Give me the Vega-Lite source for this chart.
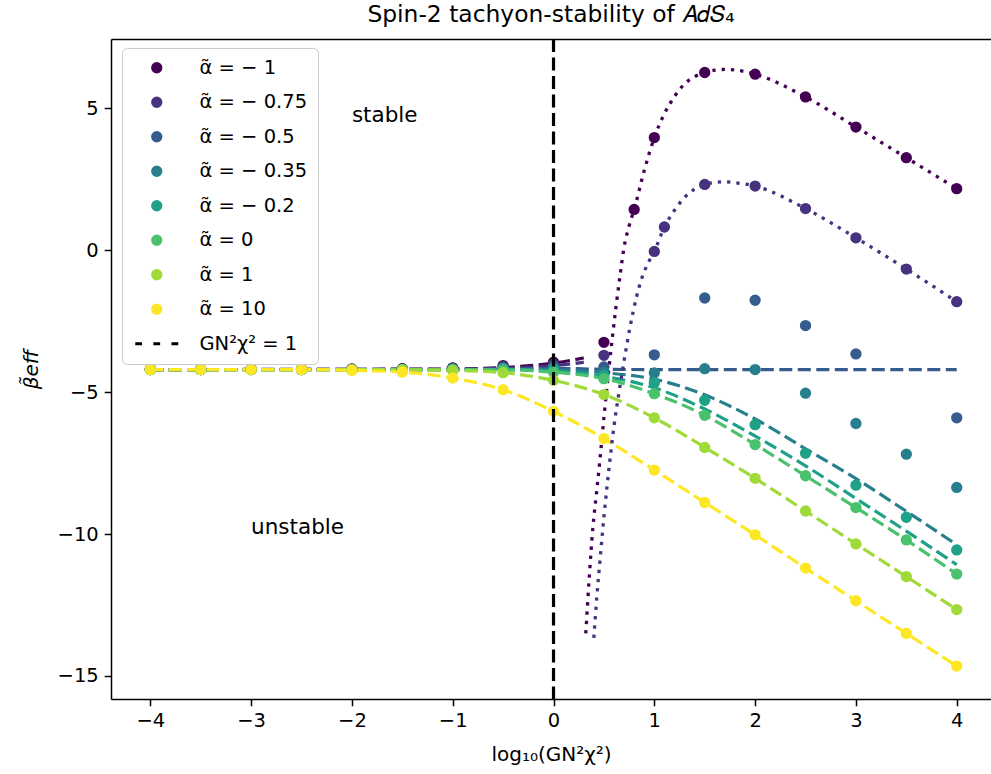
{
  "$schema": "https://vega.github.io/schema/vega-lite/v6.json",
  "width": 880,
  "height": 660,
  "autosize": {"type": "none"},
  "padding": {"left": 111, "top": 39, "right": 0, "bottom": 75},
  "title": {"text": "Spin-2 tachyon-stability of 𝐴𝑑𝑆₄", "fontSize": 23.4, "font": "DejaVu Sans", "fontWeight": "normal", "color": "black", "anchor": "middle", "offset": 10},
  "config": {
    "view": {"stroke": null},
    "font": "DejaVu Sans",
    "axis": {"domainColor": "black", "domainWidth": 1.5, "tickColor": "black", "tickWidth": 1.5, "tickSize": 6.8, "labelPadding": 6, "labelFontSize": 19.5, "labelFont": "DejaVu Sans", "labelColor": "black", "titleFont": "DejaVu Sans", "titleFontSize": 20, "titleFontWeight": "normal", "titleColor": "black", "grid": false}
  },
  "datasets": {
    "pts": [
      {"a":"-1","x":-4,"y":-4.2},{"a":"-1","x":-3.5,"y":-4.2},{"a":"-1","x":-3,"y":-4.2},{"a":"-1","x":-2.5,"y":-4.2},{"a":"-1","x":-2,"y":-4.19},{"a":"-1","x":-1.5,"y":-4.18},{"a":"-1","x":-1,"y":-4.15},{"a":"-1","x":-0.5,"y":-4.07},{"a":"-1","x":0,"y":-3.95},{"a":"-1","x":0.5,"y":-3.25},{"a":"-1","x":0.8,"y":1.43},{"a":"-1","x":1,"y":3.96},{"a":"-1","x":1.5,"y":6.25},{"a":"-1","x":2,"y":6.19},{"a":"-1","x":2.5,"y":5.39},{"a":"-1","x":3,"y":4.33},{"a":"-1","x":3.5,"y":3.25},{"a":"-1","x":4,"y":2.16},
      {"a":"-0.75","x":-4,"y":-4.2},{"a":"-0.75","x":-3.5,"y":-4.2},{"a":"-0.75","x":-3,"y":-4.2},{"a":"-0.75","x":-2.5,"y":-4.2},{"a":"-0.75","x":-2,"y":-4.2},{"a":"-0.75","x":-1.5,"y":-4.19},{"a":"-0.75","x":-1,"y":-4.16},{"a":"-0.75","x":-0.5,"y":-4.1},{"a":"-0.75","x":0,"y":-4.02},{"a":"-0.75","x":0.5,"y":-3.71},{"a":"-0.75","x":1,"y":-0.05},{"a":"-0.75","x":1.1,"y":0.81},{"a":"-0.75","x":1.5,"y":2.31},{"a":"-0.75","x":2,"y":2.25},{"a":"-0.75","x":2.5,"y":1.46},{"a":"-0.75","x":3,"y":0.43},{"a":"-0.75","x":3.5,"y":-0.67},{"a":"-0.75","x":4,"y":-1.82},
      {"a":"-0.5","x":-4,"y":-4.21},{"a":"-0.5","x":-3.5,"y":-4.21},{"a":"-0.5","x":-3,"y":-4.21},{"a":"-0.5","x":-2.5,"y":-4.21},{"a":"-0.5","x":-2,"y":-4.21},{"a":"-0.5","x":-1.5,"y":-4.2},{"a":"-0.5","x":-1,"y":-4.18},{"a":"-0.5","x":-0.5,"y":-4.14},{"a":"-0.5","x":0,"y":-4.1},{"a":"-0.5","x":0.5,"y":-4.12},{"a":"-0.5","x":1,"y":-3.69},{"a":"-0.5","x":1.5,"y":-1.69},{"a":"-0.5","x":2,"y":-1.77},{"a":"-0.5","x":2.5,"y":-2.66},{"a":"-0.5","x":3,"y":-3.66},{"a":"-0.5","x":4,"y":-5.91},
      {"a":"-0.35","x":-4,"y":-4.21},{"a":"-0.35","x":-3.5,"y":-4.21},{"a":"-0.35","x":-3,"y":-4.21},{"a":"-0.35","x":-2.5,"y":-4.21},{"a":"-0.35","x":-2,"y":-4.21},{"a":"-0.35","x":-1.5,"y":-4.21},{"a":"-0.35","x":-1,"y":-4.19},{"a":"-0.35","x":-0.5,"y":-4.16},{"a":"-0.35","x":0,"y":-4.15},{"a":"-0.35","x":0.5,"y":-4.3},{"a":"-0.35","x":1,"y":-4.33},{"a":"-0.35","x":1.5,"y":-4.18},{"a":"-0.35","x":2,"y":-4.21},{"a":"-0.35","x":2.5,"y":-5.04},{"a":"-0.35","x":3,"y":-6.11},{"a":"-0.35","x":3.5,"y":-7.19},{"a":"-0.35","x":4,"y":-8.36},
      {"a":"-0.2","x":-4,"y":-4.21},{"a":"-0.2","x":-3.5,"y":-4.21},{"a":"-0.2","x":-3,"y":-4.21},{"a":"-0.2","x":-2.5,"y":-4.21},{"a":"-0.2","x":-2,"y":-4.21},{"a":"-0.2","x":-1.5,"y":-4.21},{"a":"-0.2","x":-1,"y":-4.2},{"a":"-0.2","x":-0.5,"y":-4.18},{"a":"-0.2","x":0,"y":-4.2},{"a":"-0.2","x":0.5,"y":-4.42},{"a":"-0.2","x":1,"y":-4.67},{"a":"-0.2","x":1.5,"y":-5.29},{"a":"-0.2","x":2,"y":-6.15},{"a":"-0.2","x":2.5,"y":-7.16},{"a":"-0.2","x":3,"y":-8.28},{"a":"-0.2","x":3.5,"y":-9.41},{"a":"-0.2","x":4,"y":-10.56},
      {"a":"0","x":-4,"y":-4.21},{"a":"0","x":-3.5,"y":-4.21},{"a":"0","x":-3,"y":-4.21},{"a":"0","x":-2.5,"y":-4.21},{"a":"0","x":-2,"y":-4.21},{"a":"0","x":-1.5,"y":-4.21},{"a":"0","x":-1,"y":-4.21},{"a":"0","x":-0.5,"y":-4.22},{"a":"0","x":0,"y":-4.3},{"a":"0","x":0.5,"y":-4.53},{"a":"0","x":1,"y":-5.06},{"a":"0","x":1.5,"y":-5.82},{"a":"0","x":2,"y":-6.85},{"a":"0","x":2.5,"y":-7.95},{"a":"0","x":3,"y":-9.07},{"a":"0","x":3.5,"y":-10.21},{"a":"0","x":4,"y":-11.41},
      {"a":"1","x":-4,"y":-4.21},{"a":"1","x":-3.5,"y":-4.21},{"a":"1","x":-3,"y":-4.21},{"a":"1","x":-2.5,"y":-4.21},{"a":"1","x":-2,"y":-4.21},{"a":"1","x":-1.5,"y":-4.22},{"a":"1","x":-1,"y":-4.24},{"a":"1","x":-0.5,"y":-4.32},{"a":"1","x":0,"y":-4.59},{"a":"1","x":0.5,"y":-5.09},{"a":"1","x":1,"y":-5.91},{"a":"1","x":1.5,"y":-6.95},{"a":"1","x":2,"y":-8.04},{"a":"1","x":2.5,"y":-9.19},{"a":"1","x":3,"y":-10.35},{"a":"1","x":3.5,"y":-11.5},{"a":"1","x":4,"y":-12.66},
      {"a":"10","x":-4,"y":-4.21},{"a":"10","x":-3.5,"y":-4.21},{"a":"10","x":-3,"y":-4.21},{"a":"10","x":-2.5,"y":-4.21},{"a":"10","x":-2,"y":-4.24},{"a":"10","x":-1.5,"y":-4.3},{"a":"10","x":-1,"y":-4.51},{"a":"10","x":-0.5,"y":-4.92},{"a":"10","x":0,"y":-5.68},{"a":"10","x":0.5,"y":-6.64},{"a":"10","x":1,"y":-7.75},{"a":"10","x":1.5,"y":-8.89},{"a":"10","x":2,"y":-10.03},{"a":"10","x":2.5,"y":-11.2},{"a":"10","x":3,"y":-12.35},{"a":"10","x":3.5,"y":-13.5},{"a":"10","x":4,"y":-14.65}
    ],
    "dash": [
      {"a":"-1","x":-4,"y":-4.21},{"a":"-1","x":-1,"y":-4.19},{"a":"-1","x":-0.5,"y":-4.14},{"a":"-1","x":0,"y":-3.98},{"a":"-1","x":0.15,"y":-3.9},{"a":"-1","x":0.3,"y":-3.8},
      {"a":"-0.75","x":-4,"y":-4.21},{"a":"-0.75","x":-1,"y":-4.2},{"a":"-0.75","x":-0.5,"y":-4.17},{"a":"-0.75","x":0,"y":-4.07},{"a":"-0.75","x":0.15,"y":-4.02},{"a":"-0.75","x":0.3,"y":-3.95},
      {"a":"-0.5","x":-4,"y":-4.21},{"a":"-0.5","x":-1,"y":-4.21},{"a":"-0.5","x":-0.5,"y":-4.2},{"a":"-0.5","x":0,"y":-4.17},{"a":"-0.5","x":0.5,"y":-4.2},{"a":"-0.5","x":1,"y":-4.21},{"a":"-0.5","x":4,"y":-4.21},
      {"a":"-0.35","x":-4,"y":-4.21},{"a":"-0.35","x":-2,"y":-4.21},{"a":"-0.35","x":-1,"y":-4.21},{"a":"-0.35","x":-0.5,"y":-4.2},{"a":"-0.35","x":0,"y":-4.22},{"a":"-0.35","x":0.5,"y":-4.32},{"a":"-0.35","x":1,"y":-4.55},{"a":"-0.35","x":1.5,"y":-5.1},{"a":"-0.35","x":2,"y":-5.95},{"a":"-0.35","x":2.5,"y":-7.0},{"a":"-0.35","x":3,"y":-8.05},{"a":"-0.35","x":3.5,"y":-9.2},{"a":"-0.35","x":4,"y":-10.38},
      {"a":"-0.2","x":-4,"y":-4.21},{"a":"-0.2","x":-2,"y":-4.21},{"a":"-0.2","x":-1,"y":-4.21},{"a":"-0.2","x":-0.5,"y":-4.21},{"a":"-0.2","x":0,"y":-4.26},{"a":"-0.2","x":0.5,"y":-4.45},{"a":"-0.2","x":1,"y":-4.85},{"a":"-0.2","x":1.5,"y":-5.6},{"a":"-0.2","x":2,"y":-6.55},{"a":"-0.2","x":2.5,"y":-7.6},{"a":"-0.2","x":3,"y":-8.75},{"a":"-0.2","x":3.5,"y":-9.9},{"a":"-0.2","x":4,"y":-11.08},
      {"a":"0","x":-4,"y":-4.21},{"a":"0","x":-2,"y":-4.21},{"a":"0","x":-1,"y":-4.21},{"a":"0","x":-0.5,"y":-4.22},{"a":"0","x":0,"y":-4.3},{"a":"0","x":0.5,"y":-4.53},{"a":"0","x":1,"y":-5.06},{"a":"0","x":1.5,"y":-5.82},{"a":"0","x":2,"y":-6.85},{"a":"0","x":2.5,"y":-7.95},{"a":"0","x":3,"y":-9.07},{"a":"0","x":3.5,"y":-10.21},{"a":"0","x":4,"y":-11.41},
      {"a":"1","x":-4,"y":-4.21},{"a":"1","x":-2,"y":-4.21},{"a":"1","x":-1.5,"y":-4.22},{"a":"1","x":-1,"y":-4.24},{"a":"1","x":-0.5,"y":-4.32},{"a":"1","x":0,"y":-4.59},{"a":"1","x":0.5,"y":-5.09},{"a":"1","x":1,"y":-5.91},{"a":"1","x":1.5,"y":-6.95},{"a":"1","x":2,"y":-8.04},{"a":"1","x":2.5,"y":-9.19},{"a":"1","x":3,"y":-10.35},{"a":"1","x":3.5,"y":-11.5},{"a":"1","x":4,"y":-12.66},
      {"a":"10","x":-4,"y":-4.21},{"a":"10","x":-2.5,"y":-4.21},{"a":"10","x":-2,"y":-4.24},{"a":"10","x":-1.5,"y":-4.3},{"a":"10","x":-1,"y":-4.51},{"a":"10","x":-0.5,"y":-4.92},{"a":"10","x":0,"y":-5.68},{"a":"10","x":0.5,"y":-6.64},{"a":"10","x":1,"y":-7.75},{"a":"10","x":1.5,"y":-8.89},{"a":"10","x":2,"y":-10.03},{"a":"10","x":2.5,"y":-11.2},{"a":"10","x":3,"y":-12.35},{"a":"10","x":3.5,"y":-13.5},{"a":"10","x":4,"y":-14.65}
    ],
    "dot": [
      {"a":"-1","x":0.32,"y":-13.5},{"a":"-1","x":0.355,"y":-11.5},{"a":"-1","x":0.39,"y":-9.8},{"a":"-1","x":0.425,"y":-8.6},{"a":"-1","x":0.46,"y":-7.4},{"a":"-1","x":0.5,"y":-5.9},{"a":"-1","x":0.54,"y":-4.5},{"a":"-1","x":0.58,"y":-3.2},{"a":"-1","x":0.62,"y":-2.0},{"a":"-1","x":0.66,"y":-0.9},{"a":"-1","x":0.7,"y":0.1},{"a":"-1","x":0.75,"y":0.85},{"a":"-1","x":0.8,"y":1.43},{"a":"-1","x":0.9,"y":2.8},{"a":"-1","x":1,"y":3.96},{"a":"-1","x":1.1,"y":4.8},{"a":"-1","x":1.2,"y":5.4},{"a":"-1","x":1.3,"y":5.85},{"a":"-1","x":1.4,"y":6.1},{"a":"-1","x":1.5,"y":6.25},{"a":"-1","x":1.6,"y":6.33},{"a":"-1","x":1.7,"y":6.36},{"a":"-1","x":1.8,"y":6.34},{"a":"-1","x":1.9,"y":6.28},{"a":"-1","x":2,"y":6.19},{"a":"-1","x":2.5,"y":5.39},{"a":"-1","x":3,"y":4.33},{"a":"-1","x":3.5,"y":3.25},{"a":"-1","x":4,"y":2.16},
      {"a":"-0.75","x":0.4,"y":-13.66},{"a":"-0.75","x":0.43,"y":-12.2},{"a":"-0.75","x":0.46,"y":-10.97},{"a":"-0.75","x":0.5,"y":-9.4},{"a":"-0.75","x":0.55,"y":-7.7},{"a":"-0.75","x":0.6,"y":-6.2},{"a":"-0.75","x":0.65,"y":-5.0},{"a":"-0.75","x":0.7,"y":-3.9},{"a":"-0.75","x":0.76,"y":-2.7},{"a":"-0.75","x":0.82,"y":-1.7},{"a":"-0.75","x":0.88,"y":-0.95},{"a":"-0.75","x":0.94,"y":-0.45},{"a":"-0.75","x":1,"y":-0.05},{"a":"-0.75","x":1.1,"y":0.81},{"a":"-0.75","x":1.2,"y":1.4},{"a":"-0.75","x":1.3,"y":1.85},{"a":"-0.75","x":1.4,"y":2.15},{"a":"-0.75","x":1.5,"y":2.31},{"a":"-0.75","x":1.6,"y":2.38},{"a":"-0.75","x":1.7,"y":2.4},{"a":"-0.75","x":1.8,"y":2.37},{"a":"-0.75","x":2,"y":2.25},{"a":"-0.75","x":2.5,"y":1.46},{"a":"-0.75","x":3,"y":0.43},{"a":"-0.75","x":3.5,"y":-0.67},{"a":"-0.75","x":4,"y":-1.82}
    ],
    "vline": [{"x": 0}],
    "notes": [{"x": -2, "y": 4.5, "t": "stable"}, {"x": -3, "y": -10, "t": "unstable"}]
  },
  "resolve": {"axis": {"x": "independent", "y": "independent"}, "legend": {"color": "independent", "shape": "independent"}},
  "layer": [
    {
      "data": {"name": "dash"},
      "mark": {"type": "line", "strokeWidth": 3.2, "strokeDash": [13, 5.5], "interpolate": "monotone", "clip": true},
      "encoding": {
        "x": {"field": "x", "type": "quantitative", "scale": {"domain": [-4.39, 4.34], "nice": false, "zero": false}, "axis": null},
        "y": {"field": "y", "type": "quantitative", "scale": {"domain": [-15.81, 7.43], "nice": false, "zero": false}, "axis": null},
        "color": {"field": "a", "type": "nominal", "scale": {"domain": ["-1","-0.75","-0.5","-0.35","-0.2","0","1","10","GN"], "range": ["#440154","#46327e","#365c8d","#277f8e","#1fa187","#4ac16d","#a0da39","#fde725","#000000"]}, "legend": null}
      }
    },
    {
      "data": {"name": "dot"},
      "mark": {"type": "line", "strokeWidth": 3.3, "strokeDash": [3.3, 6], "interpolate": "monotone", "clip": true},
      "encoding": {
        "x": {"field": "x", "type": "quantitative", "scale": {"domain": [-4.39, 4.34], "nice": false, "zero": false}, "axis": null},
        "y": {"field": "y", "type": "quantitative", "scale": {"domain": [-15.81, 7.43], "nice": false, "zero": false}, "axis": null},
        "color": {"field": "a", "type": "nominal", "scale": {"domain": ["-1","-0.75","-0.5","-0.35","-0.2","0","1","10","GN"], "range": ["#440154","#46327e","#365c8d","#277f8e","#1fa187","#4ac16d","#a0da39","#fde725","#000000"]}, "legend": null}
      }
    },
    {
      "data": {"name": "pts"},
      "mark": {"type": "point", "filled": true, "opacity": 1, "size": 128, "clip": true},
      "encoding": {
        "x": {"field": "x", "type": "quantitative", "scale": {"domain": [-4.39, 4.34], "nice": false, "zero": false}, "axis": {"values": [-4,-3,-2,-1,0,1,2,3,4], "format": "d", "title": "log₁₀(GN²χ²)", "titlePadding": 14}},
        "y": {"field": "y", "type": "quantitative", "scale": {"domain": [-15.81, 7.43], "nice": false, "zero": false}, "axis": {"values": [-15,-10,-5,0,5], "format": "d", "title": "β̃eff", "titleFontStyle": "italic", "titlePadding": 16}},
        "color": {"field": "a", "type": "nominal", "scale": {"domain": ["-1","-0.75","-0.5","-0.35","-0.2","0","1","10","GN"], "range": ["#440154","#46327e","#365c8d","#277f8e","#1fa187","#4ac16d","#a0da39","#fde725","#000000"]},
          "legend": {"orient": "none", "legendX": 11, "legendY": 9, "title": null, "labelFontSize": 19.5, "labelFont": "DejaVu Sans", "labelColor": "black", "symbolSize": 128, "symbolOffset": 15, "labelOffset": 33, "padding": 10, "rowPadding": 13.5, "fillColor": "rgba(255,255,255,0.85)", "strokeColor": "#cccccc", "cornerRadius": 5, "symbolStrokeWidth": 0, "labelLimit": 300,
            "labelExpr": "datum.label == 'GN' ? 'GN²χ² = 1' : 'α̃ = ' + replace(datum.label, '-', '− ')"}},
        "shape": {"field": "a", "type": "nominal", "scale": {"domain": ["-1","-0.75","-0.5","-0.35","-0.2","0","1","10","GN"], "range": ["circle","circle","circle","circle","circle","circle","circle","circle","M-3.8,-0.27H-2.6V0.27H-3.8Z M-0.6,-0.27H0.6V0.27H-0.6Z M2.6,-0.27H3.8V0.27H2.6Z"]},
          "legend": {"orient": "none", "legendX": 11, "legendY": 9, "title": null, "labelFontSize": 19.5, "labelFont": "DejaVu Sans", "labelColor": "black", "symbolSize": 128, "symbolOffset": 15, "labelOffset": 33, "padding": 10, "rowPadding": 13.5, "fillColor": "rgba(255,255,255,0.85)", "strokeColor": "#cccccc", "cornerRadius": 5, "symbolStrokeWidth": 0, "labelLimit": 300,
            "labelExpr": "datum.label == 'GN' ? 'GN²χ² = 1' : 'α̃ = ' + replace(datum.label, '-', '− ')"}}
      }
    },
    {
      "data": {"name": "notes"},
      "mark": {"type": "text", "align": "left", "baseline": "alphabetic", "fontSize": 21.5, "font": "DejaVu Sans", "color": "black"},
      "encoding": {
        "x": {"field": "x", "type": "quantitative", "scale": {"domain": [-4.39, 4.34], "nice": false, "zero": false}, "axis": null},
        "y": {"field": "y", "type": "quantitative", "scale": {"domain": [-15.81, 7.43], "nice": false, "zero": false}, "axis": null},
        "text": {"field": "t"}
      }
    },
    {
      "data": {"name": "vline"},
      "mark": {"type": "rule", "color": "black", "strokeWidth": 3.2, "strokeDash": [13, 5.5]},
      "encoding": {
        "x": {"field": "x", "type": "quantitative", "scale": {"domain": [-4.39, 4.34], "nice": false, "zero": false}, "axis": {"orient": "top", "labels": false, "ticks": false, "title": null, "domain": true}}
      }
    }
  ]
}
